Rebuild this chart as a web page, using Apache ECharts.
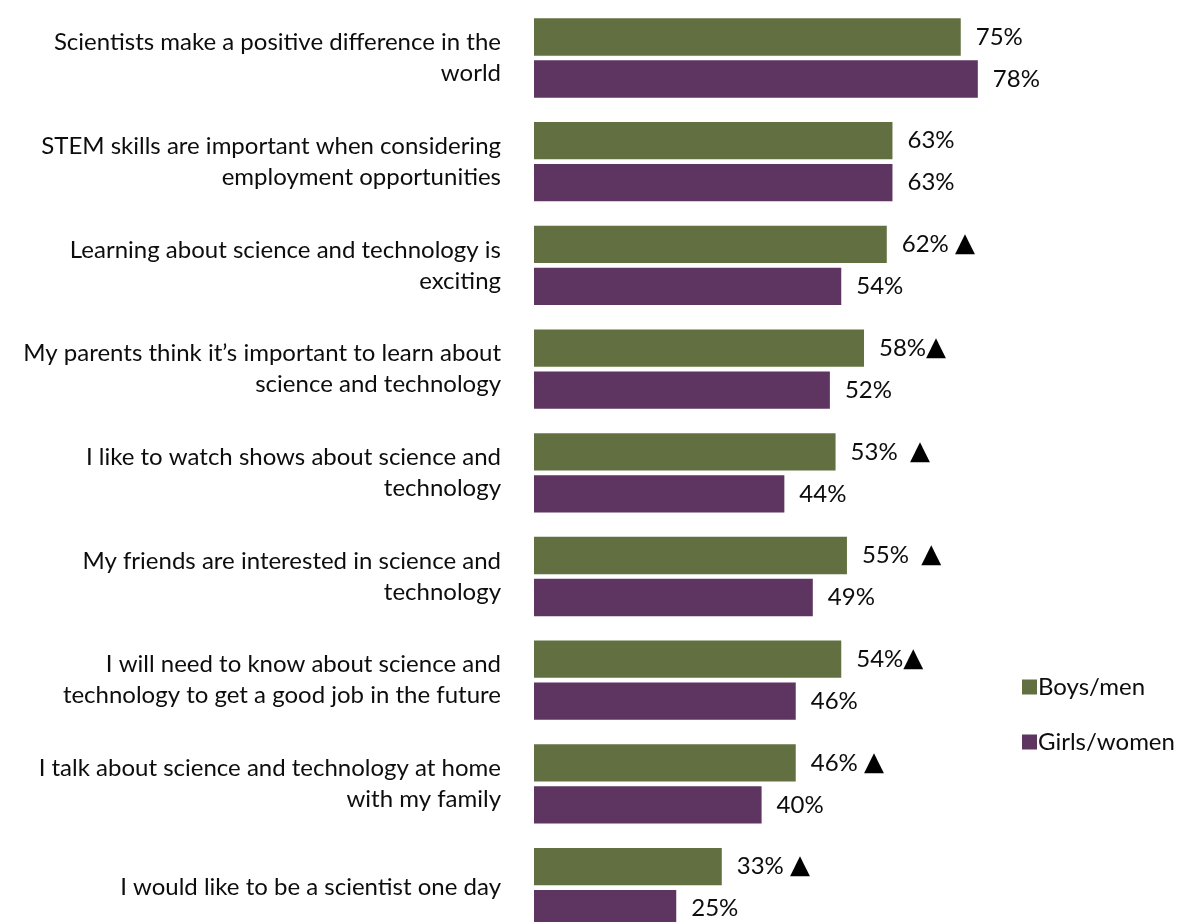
<!DOCTYPE html>
<html>
<head>
<meta charset="utf-8">
<script src="https://cdn.jsdelivr.net/npm/echarts@6/dist/echarts.min.js"></script>
<style>
  html, body { margin: 0; padding: 0; background: #fff; }
  #chart { width: 1181px; height: 922px; }
</style>
</head>
<body>
<div id="chart"></div>
<script>
// Survey statements (top to bottom)
const categories = [
  'Scientists make a positive difference in the\nworld',
  'STEM skills are important when considering\nemployment opportunities',
  'Learning about science and technology is\nexciting',
  'My parents think it\u2019s important to learn about\nscience and technology',
  'I like to watch shows about science and\ntechnology',
  'My friends are interested in science and\ntechnology',
  'I will need to know about science and\ntechnology to get a good job in the future',
  'I talk about science and technology at home\nwith my family',
  'I would like to be a scientist one day'
];

// Share agreeing, in percent
const boysMen = [75, 63, 62, 58, 53, 55, 54, 46, 33];
const girlsWomen = [78, 63, 54, 52, 44, 49, 46, 40, 25];

// Significance marker gaps after the boys/men value (null = no marker)
const boysMarkerGap = [null, null, ' ', '', '  ', '  ', '', ' ', ' '];

const seriesNames = ['Boys/men', 'Girls/women'];
const colors = ['#627041', '#5D3560'];

const FONT = 'Lato, "Open Sans", sans-serif';
const FS = 24;

const chart = echarts.init(document.getElementById('chart'), null, { renderer: 'canvas' });

chart.setOption({
  animation: false,
  backgroundColor: '#ffffff',
  textStyle: { fontFamily: FONT, color: '#0d0d0d' },
  legend: {
    orient: 'vertical',
    left: 1017,
    top: 670,
    itemWidth: 15,
    itemHeight: 15,
    itemGap: 31,
    icon: 'rect',
    textStyle: { fontFamily: FONT, fontSize: FS, color: '#0d0d0d', padding: [0, 0, 0, -4] },
    data: seriesNames
  },
  grid: {
    left: 534,
    top: 6.15,
    width: 569,
    height: 933.3,
    outerBoundsMode: 'none'
  },
  xAxis: {
    type: 'value',
    min: 0,
    max: 100,
    show: false,
    splitLine: { show: false }
  },
  yAxis: {
    type: 'category',
    inverse: true,
    data: categories,
    axisLine: { show: false },
    axisTick: { show: false },
    axisLabel: {
      margin: 33,
      fontFamily: FONT,
      fontSize: FS,
      lineHeight: 31,
      color: '#0d0d0d',
      align: 'right'
    }
  },
  series: [
    {
      name: seriesNames[0],
      type: 'bar',
      data: boysMen,
      barWidth: 37.3,
      barGap: '12.6%',
      itemStyle: { color: colors[0] },
      label: {
        show: true,
        position: 'right',
        distance: 15,
        fontFamily: FONT,
        fontSize: FS,
        color: '#0d0d0d',
        formatter: p => {
          const gap = boysMarkerGap[p.dataIndex];
          return gap === null ? p.value + '%' : p.value + '%' + gap + '{t|\u25B2}';
        },
        rich: {
          t: { fontFamily: '"DejaVu Sans", sans-serif', fontSize: 26, color: '#000' }
        }
      }
    },
    {
      name: seriesNames[1],
      type: 'bar',
      data: girlsWomen,
      barWidth: 37.3,
      itemStyle: { color: colors[1] },
      label: {
        show: true,
        position: 'right',
        distance: 15,
        fontFamily: FONT,
        fontSize: FS,
        color: '#0d0d0d',
        formatter: p => p.value + '%'
      }
    }
  ]
});
</script>
</body>
</html>
